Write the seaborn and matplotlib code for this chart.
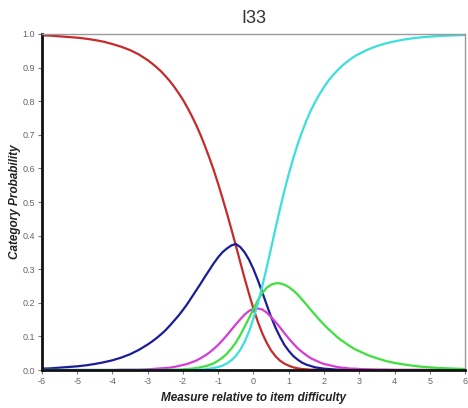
import numpy as np
import pandas as pd
import matplotlib
matplotlib.use("Agg")
import matplotlib.pyplot as plt
import seaborn as sns

# Measure relative to item difficulty (logits)
measure = [-6.0, -5.75, -5.5, -5.25, -5.0, -4.75, -4.5, -4.25, -4.0, -3.75,
           -3.5, -3.25, -3.0, -2.875, -2.75, -2.625, -2.5, -2.375, -2.25, -2.125,
           -2.0, -1.875, -1.75, -1.625, -1.5, -1.375, -1.25, -1.125, -1.0, -0.875,
           -0.75, -0.625, -0.5, -0.375, -0.25, -0.125, 0.0, 0.125, 0.25, 0.375,
           0.5, 0.625, 0.75, 0.875, 1.0, 1.125, 1.25, 1.375, 1.5, 1.625,
           1.75, 1.875, 2.0, 2.125, 2.25, 2.375, 2.5, 2.625, 2.75, 2.875,
           3.0, 3.25, 3.5, 3.75, 4.0, 4.25, 4.5, 4.75, 5.0, 5.25,
           5.5, 5.75, 6.0]

cat0 = [.996, .995, .993, .991, .989, .986, .982, .977, .970, .962,
        .952, .939, .922, .912, .901, .889, .875, .860, .843, .824,
        .804, .781, .756, .729, .699, .666, .631, .594, .553, .510,
        .465, .418, .370, .321, .272, .226, .182, .143, .109, .081,
        .058, .041, .028, .019, .013, .008, .005, .003, .002, .001,
        .001, .001, 0, 0, 0, 0, 0, 0, 0, 0,
        0, 0, 0, 0, 0, 0, 0, 0, 0, 0,
        0, 0, 0]
cat1 = [.004, .005, .007, .009, .011, .014, .018, .023, .029, .037,
        .047, .060, .076, .085, .095, .106, .118, .132, .147, .162,
        .179, .197, .217, .237, .257, .278, .298, .318, .336, .351,
        .362, .371, .375, .366, .350, .328, .300, .267, .231, .194,
        .158, .126, .099, .075, .057, .042, .031, .022, .016, .012,
        .008, .006, .004, .003, .002, .001, .001, .001, 0, 0,
        0, 0, 0, 0, 0, 0, 0, 0, 0, 0,
        0, 0, 0]
cat2 = [0, 0, 0, 0, 0, 0, 0, 0, 0, .001,
        .001, .001, .002, .003, .004, .005, .006, .007, .009, .012,
        .015, .018, .023, .028, .035, .043, .052, .063, .075, .089,
        .104, .120, .136, .151, .165, .176, .182, .183, .180, .171,
        .158, .143, .127, .110, .094, .079, .065, .054, .044, .035,
        .029, .023, .018, .015, .012, .009, .007, .006, .004, .004,
        .003, .002, .001, .001, 0, 0, 0, 0, 0, 0,
        0, 0, 0]
cat3 = [0, 0, 0, 0, 0, 0, 0, 0, 0, 0,
        0, 0, 0, 0, 0, 0, 0, .001, .001, .001,
        .002, .003, .004, .006, .008, .011, .015, .020, .028, .037,
        .049, .064, .082, .104, .129, .155, .182, .208, .229, .245,
        .254, .258, .258, .254, .247, .237, .225, .210, .195, .179,
        .164, .149, .135, .122, .110, .098, .088, .079, .070, .062,
        .056, .044, .035, .027, .021, .017, .013, .010, .008, .006,
        .005, .004, .003]
cat4 = [0, 0, 0, 0, 0, 0, 0, 0, 0, 0,
        0, 0, 0, 0, 0, 0, 0, 0, 0, 0,
        0, 0, .001, .001, .001, .002, .004, .006, .009, .013,
        .020, .029, .042, .060, .084, .115, .154, .199, .250, .305,
        .363, .422, .479, .533, .583, .629, .671, .708, .742, .772,
        .798, .821, .842, .861, .877, .891, .904, .915, .925, .934,
        .941, .954, .964, .972, .978, .983, .987, .990, .992, .994,
        .995, .996, .997]

categories = ["0", "1", "2", "3", "4"]
colors = ["#c62a2a", "#1c1c98", "#d63cd6", "#3ee03e", "#3ddede"]
x_ticks = [-6, -5, -4, -3, -2, -1, 0, 1, 2, 3, 4, 5, 6]
y_ticks = [0.0, 0.1, 0.2, 0.3, 0.4, 0.5, 0.6, 0.7, 0.8, 0.9, 1.0]

series = [cat0, cat1, cat2, cat3, cat4]
frames = []
for cat, vals in zip(categories, series):
    frames.append(pd.DataFrame({"Measure": measure, "Probability": vals, "Category": cat}))
df = pd.concat(frames, ignore_index=True)

sns.set_style("white")
plt.rcParams["font.family"] = ["Liberation Sans", "DejaVu Sans"]
fig = plt.figure(figsize=(4.68, 4.08), dpi=100)
ax = fig.add_axes([0.0897, 0.0931, 0.9039, 0.8236])

sns.lineplot(data=df, x="Measure", y="Probability", hue="Category",
             palette=dict(zip(categories, colors)), linewidth=1.6,
             legend=False, ax=ax, sort=True)
for line in ax.get_lines():
    line.set_solid_joinstyle("round")
    line.set_solid_capstyle("round")

ax.set_xlim(-6, 6)
ax.set_ylim(0, 1)
ax.set_xticks(x_ticks)
ax.set_xticklabels([str(t) for t in x_ticks])
ax.set_yticks(y_ticks)
ax.set_yticklabels(["%.1f" % t for t in y_ticks])

for side in ["left", "bottom"]:
    ax.spines[side].set_color("#111111")
    ax.spines[side].set_linewidth(2.0)
for side in ["top", "right"]:
    ax.spines[side].set_color("#999999")
    ax.spines[side].set_linewidth(1.0)

ax.tick_params(axis="both", which="major", direction="out", length=3, width=0.8,
               color="#777777", labelsize=6.5, labelcolor="#666666", pad=2,
               left=True, bottom=True)

ax.set_xlabel("Measure relative to item difficulty", fontsize=8.5, fontweight="bold",
              fontstyle="italic", color="#222222", labelpad=4)
ax.set_ylabel("Category Probability", fontsize=8.5, fontweight="bold",
              fontstyle="italic", color="#222222")
ax.yaxis.set_label_coords(-0.05, 0.5)
ax.set_title("I33", fontsize=13, color="#333333", pad=8)

fig.savefig("out.png", dpi=100)
